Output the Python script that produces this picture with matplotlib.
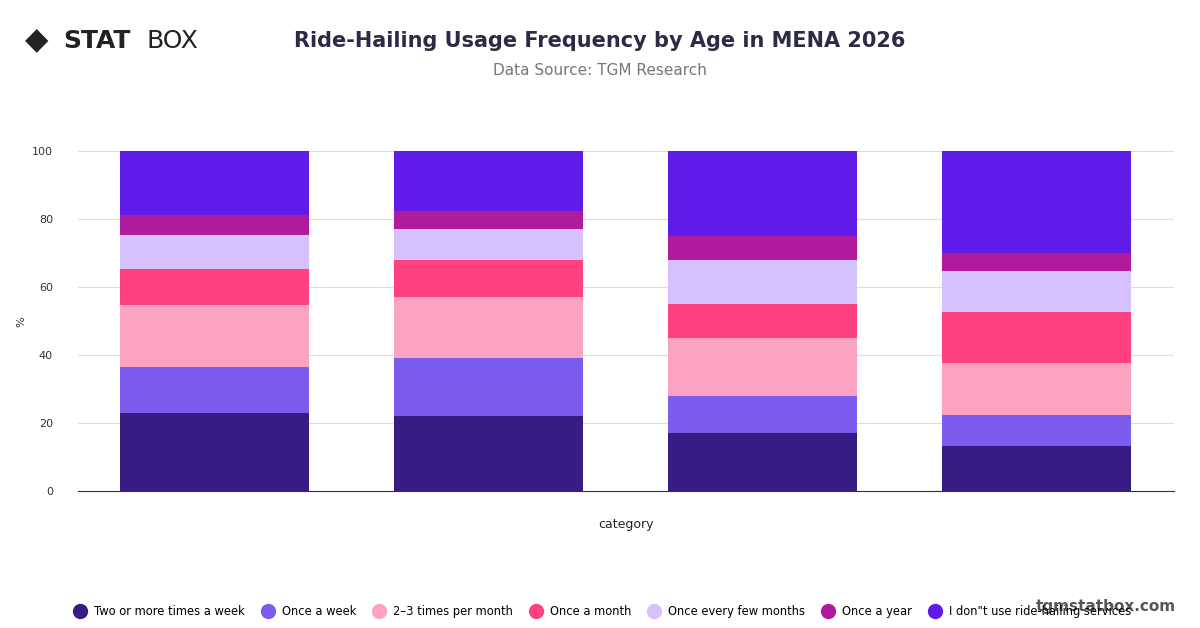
import matplotlib
matplotlib.use("Agg")
import matplotlib.pyplot as plt
import numpy as np
from matplotlib.lines import Line2D

categories = ["", "", "", ""]
series_names = ["Two or more times a week", "Once a week", "2\u20133 times per month", "Once a month",
                "Once every few months", "Once a year", "I don\"t use ride-hailing services"]
two_plus_week = [22.9, 22.1, 17.1, 13.2]
once_week = [13.6, 17.0, 10.8, 9.2]
two_three_month = [18.2, 18.0, 17.1, 15.2]
once_month = [10.6, 10.8, 10.0, 15.0]
few_months = [10.0, 9.2, 12.9, 12.1]
once_year = [5.9, 5.3, 7.1, 5.3]
never = [18.8, 17.6, 25.0, 30.0]
series = [two_plus_week, once_week, two_three_month, once_month, few_months, once_year, never]
colors = ["#371c84", "#7b5ced", "#fca3c3", "#ff4081", "#d5c1fb", "#b01a9c", "#5f1be8"]

fig = plt.figure(figsize=(12, 6.28), dpi=100)
ax = fig.add_axes([0.065, 0.218, 0.913, 0.541])
x = np.arange(len(categories))
bottom = np.zeros(len(categories))
for name, vals, c in zip(series_names, series, colors):
    ax.bar(x, vals, bottom=bottom, width=0.69, color=c, label=name)
    bottom += np.array(vals)
ax.set_xlim(-0.5, 3.5)
ax.set_ylim(0, 100)
ax.set_yticks([0, 20, 40, 60, 80, 100])
ax.set_xticks(x)
ax.set_xticklabels(categories)
ax.tick_params(axis="both", length=0, labelsize=8, colors="#333333")
ax.tick_params(axis="y", pad=18)
ax.grid(axis="y", color="#dddddd", linewidth=0.8)
ax.set_axisbelow(True)
for s in ["top", "right", "left"]:
    ax.spines[s].set_visible(False)
ax.spines["bottom"].set_color("#333333")
ax.set_ylabel("%", fontsize=8, color="#333333")
ax.set_xlabel("category", fontsize=9, color="#222222", labelpad=16)

fig.text(0.5, 0.935, "Ride-Hailing Usage Frequency by Age in MENA 2026", ha="center", va="center",
         fontsize=15, fontweight="bold", color="#2b2b45")
fig.text(0.5, 0.887, "Data Source: TGM Research", ha="center", va="center", fontsize=11, color="#777777")
fig.text(0.021, 0.935, "\u25c6", ha="left", va="center", fontsize=22, color="#222222")
fig.text(0.053, 0.935, "STAT", ha="left", va="center", fontsize=18, fontweight="bold", color="#222222")
fig.text(0.122, 0.935, "BOX", ha="left", va="center", fontsize=18, color="#222222")
fig.text(0.98, 0.035, "tgmstatbox.com", ha="right", va="center", fontsize=11, fontweight="bold", color="#555555")

handles = [Line2D([0], [0], marker="o", linestyle="", markersize=10, markerfacecolor=c, markeredgecolor=c)
           for c in colors]
fig.legend(handles, series_names, loc="center", bbox_to_anchor=(0.5, 0.027), ncol=7, frameon=False,
           fontsize=8.3, handletextpad=0.2, columnspacing=1.0)
fig.savefig("out.png", dpi=100, facecolor="white")
